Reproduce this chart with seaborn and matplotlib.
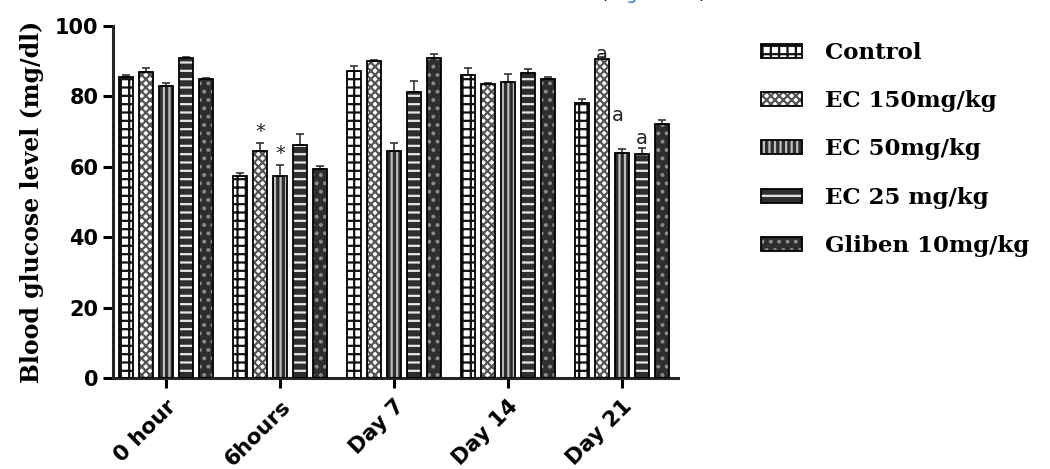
import numpy as np
import pandas as pd
import matplotlib
matplotlib.use("Agg")
import matplotlib.pyplot as plt
from matplotlib.patches import Rectangle
import seaborn as sns

# Data
timepoints = ["0 hour", "6hours", "Day 7", "Day 14", "Day 21"]
groups = ["Control", "EC 150mg/kg", "EC 50mg/kg", "EC 25 mg/kg", "Gliben 10mg/kg"]
control = [85.5, 57.3, 87.2, 86.2, 78.0]
ec150 = [87.0, 64.5, 90.0, 83.4, 90.5]
ec50 = [82.9, 57.3, 64.5, 84.0, 64.0]
ec25 = [90.8, 66.2, 81.2, 86.7, 63.7]
gliben = [84.9, 59.3, 91.0, 85.0, 72.2]
control_err = [0.5, 1.0, 1.4, 1.8, 1.3]
ec150_err = [1.0, 2.3, 0.3, 0.3, 0.8]
ec50_err = [0.8, 3.3, 2.4, 2.3, 1.0]
ec25_err = [0.3, 3.2, 3.3, 1.0, 1.7]
gliben_err = [0.4, 1.0, 0.9, 0.5, 1.1]
# significance marks: (timepoint, group, label)
marks = [("6hours", "EC 150mg/kg", "*"), ("6hours", "EC 50mg/kg", "*"),
         ("Day 21", "EC 150mg/kg", "a"), ("Day 21", "EC 50mg/kg", "a"),
         ("Day 21", "EC 25 mg/kg", "a")]

means = [control, ec150, ec50, ec25, gliben]
errs = [control_err, ec150_err, ec50_err, ec25_err, gliben_err]
df = pd.DataFrame({
    "time": timepoints * len(groups),
    "group": [g for g in groups for _ in timepoints],
    "glucose": [v for m in means for v in m],
    "sem": [v for e in errs for v in e],
})

faces = ["white", "white", "#2e2e2e", "#2e2e2e", "#2e2e2e"]
hatch_cols = ["#111111", "#555555", "#bdbdbd", "#e6e6e6", "#8c8c8c"]
hatches = ["++", "xxxx", "|||", "--", ".."]

sns.set_style("ticks")
plt.rcParams["hatch.linewidth"] = 1.6
plt.rcParams["text.color"] = "black"
plt.rcParams["axes.labelcolor"] = "black"
plt.rcParams["xtick.color"] = "black"
plt.rcParams["ytick.color"] = "black"
serif = ["DejaVu Serif"]
sans = ["DejaVu Sans"]

fig = plt.figure(figsize=(10.5, 4.69), dpi=100)
ax = fig.add_axes([0.1076, 0.194, 0.538, 0.7506])

sns.barplot(data=df, x="time", y="glucose", hue="group", order=timepoints,
            hue_order=groups, errorbar=None, width=0.88, gap=0.3,
            palette=["white"] * 5, legend=False, ax=ax)

n = len(timepoints)
for gi, g in enumerate(groups):
    for ti in range(n):
        p = ax.patches[gi * n + ti]
        p.set_facecolor(faces[gi])
        p.set_edgecolor(hatch_cols[gi])
        p.set_hatch(hatches[gi])
        p.set_linewidth(0)
        x0, y0 = p.get_xy()
        w, h = p.get_width(), p.get_height()
        ax.add_patch(Rectangle((x0, y0), w, h, fill=False, ec="black", lw=1.3, zorder=3))
        ax.errorbar(x0 + w / 2, h, yerr=[[0], [errs[gi][ti]]], color="#333333", capsize=3,
                    elinewidth=1.2, capthick=1.2, zorder=2)

# label nudges (x in category units, y in mg/dl)
nudge = {("Day 21", "EC 150mg/kg"): (0, -2.5), ("Day 21", "EC 50mg/kg"): (-0.04, 6.5),
         ("Day 21", "EC 25 mg/kg"): (0, -0.5)}
for t, g, lab in marks:
    ti, gi = timepoints.index(t), groups.index(g)
    p = ax.patches[gi * n + ti]
    top = p.get_height() + errs[gi][ti]
    dx, dy = nudge.get((t, g), (0, 0))
    ax.text(p.get_x() + p.get_width() / 2 + dx, top + 0.5 + dy, lab, ha="center", va="bottom",
            fontsize=14, family=sans, color="#222222")

ax.set_ylim(0, 100)
ax.set_xlim(-0.465, 4.49)
ax.set_yticks([0, 20, 40, 60, 80, 100])
ax.set_xlabel("")
ax.set_ylabel("Blood glucose level (mg/dl)", family=serif, fontsize=17,
              fontweight="bold", labelpad=8)
ax.tick_params(axis="both", direction="out", length=7, width=2.2, color="black")
for lbl in ax.get_yticklabels():
    lbl.set_family(sans)
    lbl.set_fontsize(15)
    lbl.set_fontweight("bold")
ax.set_xticks(range(n))
ax.tick_params(axis="x", pad=6)
ax.set_xticklabels(timepoints, rotation=45, ha="right", rotation_mode="anchor",
                   family=sans, fontsize=15.5, fontweight="bold")
sns.despine(ax=ax)
ax.spines["left"].set_linewidth(2.2)
ax.spines["bottom"].set_linewidth(2.2)

# legend
handles = [(Rectangle((0, 0), 1, 1, facecolor=faces[i], edgecolor=hatch_cols[i],
                      hatch=hatches[i], lw=0),
            Rectangle((0, 0), 1, 1, fill=False, edgecolor="black", lw=1.3))
           for i in range(len(groups))]
leg = fig.legend(handles, groups, loc="upper left", bbox_to_anchor=(0.705, 0.955),
                 frameon=False, prop={"family": serif, "weight": "bold", "size": 16.5},
                 handlelength=1.8, handleheight=0.55, labelspacing=1.15, handletextpad=1.0,
                 borderpad=0.4)

# cut-off caption link at the top edge
fig.text(0.572, 1.012, "(", color="black", fontsize=13, va="center", ha="left")
fig.text(0.583, 1.012, "Figure 1", color="#2f7bc8", fontsize=13, va="center", ha="left")
fig.text(0.665, 1.012, ")", color="black", fontsize=13, va="center", ha="left")

fig.savefig("out.png", dpi=100)
